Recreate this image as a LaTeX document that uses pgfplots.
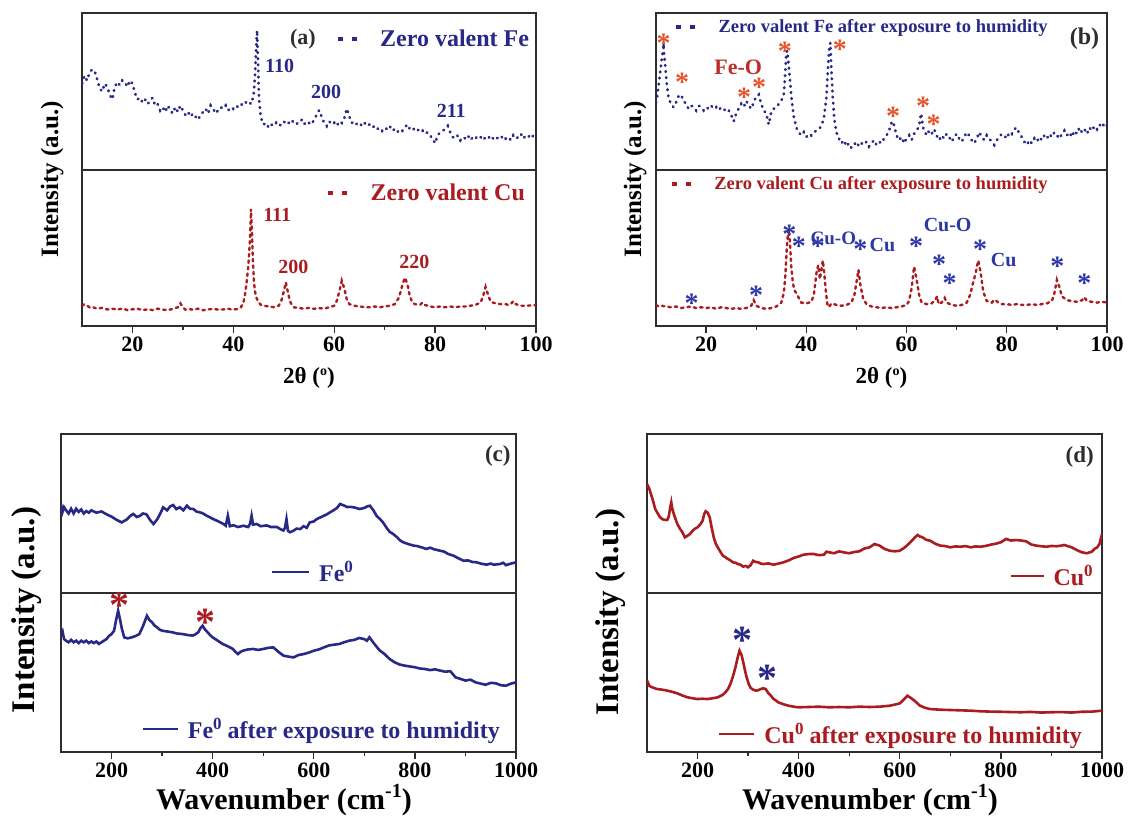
\documentclass[border=0pt]{standalone}
\usepackage{fontspec}
\setmainfont{Liberation Serif}
\usepackage{pgfplots}
\pgfplotsset{compat=1.18}
\definecolor{fenavy}{RGB}{40,40,135}
\definecolor{cured}{RGB}{170,28,32}
\definecolor{starorange}{RGB}{228,84,44}
\definecolor{feo}{RGB}{190,45,40}
\definecolor{cublue}{RGB}{45,55,165}
\definecolor{framec}{RGB}{45,45,45}
\newcommand{\fs}[1]{\fontsize{#1}{#1}\selectfont\bfseries}
\newcommand{\sps}[3]{\raisebox{#2}{\fontsize{#1}{#1}\selectfont\bfseries #3}}
\tikzset{
  st/.style={inner sep=0pt, anchor=base, font=\fs{28}, yshift=-13pt},
  bst/.style={inner sep=0pt, anchor=base, font=\fs{40}, yshift=-19pt},
}
\pgfplotsset{
  base/.style={scale only axis, anchor=south west,
    axis line style={framec, line width=1.4pt},
    ymin=0, ymax=100, ytick=\empty,
    /pgf/number format/assume math mode=true,
    /pgf/number format/set thousands separator={}},
  topsub/.style={base, xtick=\empty},
  botsub/.style={base, xtick pos=lower, tick align=outside,
    major tick length=7pt, minor tick length=4pt,
    every tick/.style={framec, line width=1.3pt},
    xticklabel style={font=\fs{22}}},
  xrd/.style={xmin=10, xmax=100},
  xrdbot/.style={xrd, botsub, xtick={20,40,60,80,100}, minor xtick={30,50,70,90},
    xlabel={2θ (\sps{14}{8pt}{o})},
    xlabel style={at={(axis description cs:0.5,-0.33)}, anchor=center, font=\fs{23}}},
  ram/.style={xmin=100, xmax=1000},
  rambot/.style={ram, botsub, xtick={200,400,600,800,1000}, minor xtick={300,500,700,900},
    xlabel={Wavenumber (cm\sps{20}{12pt}{-1})},
    xlabel style={at={(axis description cs:0.49,-0.305)}, anchor=center, font=\fs{30}}},
  dotleg/.style={legend image code/.code={
      \fill[#1, draw=none, solid] (-2.5pt,-1.8pt) rectangle (2.5pt,1.8pt);
      \fill[#1, draw=none, solid] (11.5pt,-1.8pt) rectangle (16.5pt,1.8pt);
      \path[draw=none, fill=none] (0pt,0pt) -- (40pt,0pt);}},
  lineleg/.style 2 args={legend image code/.code={
      \draw[#1, line width=2.8pt, solid] (0pt,0pt) -- (#2,0pt);
      \path[draw=none, fill=none] (0pt,0pt) -- ([xshift=10pt]#2,0pt);}},
  legs/.style={legend style={draw=none, fill=none, inner sep=0pt, nodes={inner sep=0pt}}},
}
\begin{document}
\begin{tikzpicture}
\useasboundingbox (0pt,0pt) rectangle (1129pt,818pt);

% ---------------- (a) top
\begin{axis}[topsub, xrd, at={(82pt,648pt)}, width=454pt, height=157pt,
  legs, dotleg=fenavy, legend style={at={(axis description cs:0.985,0.834)}, anchor=east, font=\fs{24}, text=fenavy}]
\addplot[fenavy, line width=2.8pt, line cap=round, dash pattern=on 0.6pt off 5.5pt] coordinates {
(10,55)(10.5,60)(11,57)(11.5,62)(12,64)(12.5,63)(13,58)(13.5,52)(14,50)(14.5,55)(15,53)(15.5,48)(16,45)(16.5,53)(17,56)(17.5,54)(18,57)(18.5,56)(19,53)(19.5,57)(20,55)(20.5,49)(21,45)(21.5,46)(22,43)(22.5,45)(23,42)(23.5,44)(24,46)(24.5,41)(25,42)(25.5,38)(26,40)(26.5,37)(27,41)(27.5,38)(28,36)(28.5,40)(29,37)(29.5,41)(30,38)(30.5,35)(31,37)(31.5,34)(32,36)(32.5,34)(33,32)(33.5,35)(34,37)(34.5,39)(35,36)(35.5,41)(36,39)(36.5,36)(37,38)(37.5,40)(38,39)(38.5,41)(39,38)(39.5,40)(40,39)(40.5,41)(41,40)(41.5,42)(42,41)(42.5,43)(43,44)(43.5,42)(44,47)(44.3,60)(44.5,76)(44.7,89)(44.9,68)(45.1,45)(45.4,35)(45.7,31)(46,29)(46.5,30)(47,27)(47.5,29)(48,28)(48.5,30)(49,28)(49.5,29)(50,31)(50.5,29)(51,30)(51.5,32)(52,30)(52.5,29)(53,31)(53.5,32)(54,29)(54.5,31)(55,30)(55.5,29)(56,32)(56.5,35)(57,38)(57.5,34)(58,30)(58.5,28)(59,31)(59.5,29)(60,30)(60.5,28)(61,31)(61.5,30)(62,33)(62.5,39)(63,34)(63.5,30)(64,31)(64.5,29)(65,30)(65.5,28)(66,30)(66.5,28)(67,29)(67.5,27)(68,28)(68.5,26)(69,27)(69.5,25)(70,27)(70.5,26)(71,28)(71.5,25)(72,26)(72.5,24)(73,26)(73.5,25)(74,27)(74.5,29)(75,26)(75.5,25)(76,27)(76.5,26)(77,24)(77.5,25)(78,23)(78.5,24)(79,22)(79.5,20)(80,17)(80.5,22)(81,24)(81.5,25)(82,26)(82.5,28)(83,24)(83.5,21)(84,20)(84.5,22)(85,19)(85.5,21)(86,20)(86.5,22)(87,19)(87.5,21)(88,20)(88.5,22)(89,21)(89.5,19)(90,21)(90.5,20)(91,22)(91.5,20)(92,19)(92.5,21)(93,20)(93.5,22)(94,20)(94.5,21)(95,19)(95.5,22)(96,20)(96.5,21)(97,23)(97.5,20)(98,22)(98.5,21)(99,23)(99.5,21)(100,22)};
\addlegendentry{Zero valent Fe}
\node[font=\fs{22}, text=framec] at (axis cs:53.8,83.4) {(a)};
\node[font=\fs{20}, text=fenavy, anchor=west] at (axis cs:45.6,66.2) {110};
\node[font=\fs{20}, text=fenavy] at (axis cs:58.4,49.7) {200};
\node[font=\fs{20}, text=fenavy] at (axis cs:83.2,37.6) {211};
\end{axis}

% ---------------- (a) bottom
\begin{axis}[xrdbot, at={(82pt,492pt)}, width=454pt, height=156pt,
  ylabel={Intensity (a.u.)}, ylabel style={at={(axis description cs:-0.066,0.94)}, anchor=center, font=\fs{25}},
  legs, dotleg=cured, legend style={at={(axis description cs:0.976,0.853)}, anchor=east, font=\fs{24}, text=cured}]
\addplot[cured, line width=2.4pt, line cap=round, dash pattern=on 2.5pt off 4pt] coordinates {
(10,13)(10.5,14)(11,13)(11.5,12)(12,12.4)(12.5,11.6)(13,11.2)(14,11.6)(15,10.6)(16,11.1)(17,10.5)(18,11.2)(19,10.2)(20,10.7)(21,11.1)(22,10.1)(23,10.7)(24,10.2)(25,11.1)(26,10.5)(27,10.1)(28,11)(29,12)(29.5,14.5)(30,12)(30.5,10.5)(31,11.1)(32,10.4)(33,11.1)(34,10.1)(35,10.6)(36,11)(37,10.5)(38,10.6)(39,11)(40,10.5)(41,11)(41.5,12)(42,15)(42.3,20)(42.6,27)(42.9,36)(43.1,45)(43.3,55)(43.5,75)(43.7,60)(43.9,40)(44.1,28)(44.3,22)(44.6,18)(45,15)(45.5,13.5)(46,13)(47,12.5)(48,12.1)(49,13)(49.5,16)(50,22)(50.4,28)(50.8,22)(51.2,16)(51.7,13)(52,12)(53,11.5)(54,11.1)(55,11.6)(56,11)(57,11.5)(58,11.1)(59,12)(60,13)(60.5,16)(61,22)(61.5,29)(62,24)(62.5,17)(63,14)(64,13)(65,12.5)(66,12.1)(67,12)(68,12.5)(69,12)(70,12.5)(71,13)(72,14)(72.8,18)(73.5,26)(74,31)(74.5,27)(75,19)(75.5,15)(76,14)(77,13.5)(77.5,15)(78,13.5)(79,12.5)(80,12)(81,12.5)(82,12)(83,12.5)(84,12)(85,12.5)(86,12.5)(87,13)(88,13.5)(89,15)(89.5,19)(90,25)(90.5,20)(91,15.5)(92,14.5)(93,14)(94,14)(94.5,13.5)(95,14)(95.5,16)(96,14)(97,13)(98,13)(99,13.2)(100,13.5)};
\addlegendentry{Zero valent Cu}
\node[font=\fs{20}, text=cured] at (axis cs:48.7,71.2) {111};
\node[font=\fs{20}, text=cured] at (axis cs:51.9,37.8) {200};
\node[font=\fs{20}, text=cured] at (axis cs:75.9,41) {220};
\end{axis}

% ---------------- (b) top
\begin{axis}[topsub, xrd, at={(656pt,648pt)}, width=451pt, height=157pt,
  legs, dotleg=fenavy, legend style={at={(axis description cs:0.869,0.91)}, anchor=east, font=\fs{18.5}, text=fenavy}]
\addplot[fenavy, line width=2.8pt, line cap=round, dash pattern=on 0.6pt off 5.5pt] coordinates {
(10,43)(10.3,48)(10.6,56)(10.9,64)(11.2,72)(11.5,78)(11.8,68)(12.1,56)(12.5,46)(13,42)(13.5,40)(14,43)(14.5,47)(15,48)(15.5,44)(16,42)(16.5,39)(17,41)(17.5,40)(18,38)(18.5,41)(19,40)(19.5,38)(20,40)(20.5,39)(21,41)(21.5,39)(22,40)(22.5,38)(23,40)(23.5,39)(24,37)(24.5,38)(25,35)(25.5,31)(26,36)(26.5,39)(27,42)(27.5,40)(28,44)(28.5,41)(29,39)(29.5,43)(30,47)(30.5,48)(31,42)(31.5,38)(32,36)(32.5,29)(33,37)(33.5,39)(34,40)(34.5,42)(35,44)(35.5,48)(35.8,62)(36,74)(36.2,76)(36.5,66)(36.8,55)(37.1,44)(37.5,34)(38,27)(38.5,24)(39,22)(39.5,24)(40,21)(40.5,23)(41,22)(41.5,24)(42,25)(42.5,26)(43,28)(43.5,33)(44,46)(44.2,58)(44.4,70)(44.6,78)(44.8,81)(45,64)(45.3,45)(45.6,32)(46,24)(46.5,20)(47,17)(47.5,19)(48,15)(48.5,17)(49,14)(49.5,16)(50,18)(50.5,15)(51,17)(51.5,16)(52,18)(52.5,15)(53,17)(53.5,19)(54,16)(54.5,18)(55,17)(55.5,20)(56,22)(56.5,25)(57,30)(57.3,31)(57.7,26)(58,22)(58.5,19)(59,21)(59.5,17)(60,20)(60.5,22)(61,19)(61.5,23)(62,25)(62.5,28)(62.9,36)(63.3,27)(63.7,24)(64,22)(64.5,25)(65,23)(65.5,26)(66,22)(66.5,19)(67,22)(67.5,20)(68,23)(68.5,21)(69,18)(69.5,21)(70,23)(70.5,20)(71,18)(71.5,21)(72,24)(72.5,22)(73,19)(73.5,17)(74,20)(74.5,24)(75,21)(75.5,19)(76,22)(76.5,20)(77,18)(77.5,16)(78,19)(78.5,21)(79,23)(79.5,22)(80,20)(80.5,24)(81,23)(81.5,26)(82,27)(82.5,23)(83,21)(83.5,18)(84,16)(84.5,19)(85,17)(85.5,20)(86,18)(86.5,21)(87,19)(87.5,22)(88,20)(88.5,23)(89,21)(89.5,24)(90,22)(90.5,20)(91,23)(91.5,25)(92,22)(92.5,24)(93,21)(93.5,25)(94,23)(94.5,27)(95,24)(95.5,26)(96,23)(96.5,27)(97,25)(97.5,28)(98,26)(98.5,29)(99,27)(99.5,30)(100,28)};
\addlegendentry{Zero valent Fe after exposure to humidity}
\node[font=\fs{24}, text=framec] at (axis cs:95.5,83.4) {(b)};
\node[font=\fs{22}, text=feo] at (axis cs:26.4,65.6) {Fe-O};
\node[st, text=starorange] at (axis cs:11.5,83.4) {*};
\node[st, text=starorange] at (axis cs:15.2,58) {*};
\node[st, text=starorange] at (axis cs:27.6,48.4) {*};
\node[st, text=starorange] at (axis cs:30.6,54.8) {*};
\node[st, text=starorange] at (axis cs:35.7,78.3) {*};
\node[st, text=starorange] at (axis cs:46.7,79) {*};
\node[st, text=starorange] at (axis cs:57.3,36.3) {*};
\node[st, text=starorange] at (axis cs:63.3,42.7) {*};
\node[st, text=starorange] at (axis cs:65.4,31.8) {*};
\end{axis}

% ---------------- (b) bottom
\begin{axis}[xrdbot, at={(656pt,492pt)}, width=451pt, height=156pt,
  ylabel={Intensity (a.u.)}, ylabel style={at={(axis description cs:-0.046,0.94)}, anchor=center, font=\fs{25}},
  legs, dotleg=cured, legend style={at={(axis description cs:0.869,0.91)}, anchor=east, font=\fs{18.5}, text=cured}]
\addplot[cured, line width=2.4pt, line cap=round, dash pattern=on 2.5pt off 4pt] coordinates {
(10,13.5)(10.5,12.5)(11,13)(12,12.5)(13,12)(14,12.5)(15,11.5)(16,12)(17,12.5)(18,11.5)(19,12)(20,11.5)(21,12)(22,11)(23,12)(24,11.5)(25,11)(26,11.5)(27,11)(28,11.5)(29,13)(29.5,16.5)(30,13)(31,11.5)(32,11)(33,11.5)(34,12.5)(35,15)(35.5,21)(35.8,32)(36.1,50)(36.4,62)(36.7,55)(37,38)(37.3,28)(37.6,23)(38,21)(38.5,18)(39,15)(40,14.5)(41,15.5)(41.5,20)(41.8,28)(42.1,36)(42.4,39)(42.7,30)(43,36)(43.3,42)(43.6,33)(43.9,22)(44.2,14)(44.5,12)(45,14.5)(46,13.5)(47,13)(48,13.5)(49,15)(49.6,20)(50.1,30)(50.4,36)(50.8,26)(51.3,18)(52,14)(53,12.5)(54,12)(55,11.5)(56,12)(57,11.5)(58,12)(59,12.5)(60,13.5)(60.5,16)(61,24)(61.5,38)(62,30)(62.5,20)(63,15)(64,14)(65,14.5)(65.8,17)(66.1,19)(66.4,14)(67,15)(67.6,18)(68,15)(69,13.5)(70,13)(71,13.5)(72,15)(72.7,20)(73.3,28)(73.8,34)(74.3,42)(74.8,34)(75.3,22)(76,16)(77,15)(77.6,17)(78.3,15)(79,14)(80,14)(81,13.5)(82,14)(83,13.5)(84,13.5)(85,14)(86,13.5)(87,14)(88,14.5)(89,16)(89.5,21)(90,29.5)(90.5,25)(91,19)(92,16.5)(93,16)(94,15.5)(95,16.5)(95.5,18.5)(96,16)(97,15.5)(98,15)(99,15.5)(100,15)};
\addlegendentry{Zero valent Cu after exposure to humidity}
\node[st, text=cublue] at (axis cs:17.1,16.7) {*};
\node[st, text=cublue] at (axis cs:30,21.8) {*};
\node[st, text=cublue] at (axis cs:36.6,61.5) {*};
\node[st, text=cublue] at (axis cs:38.5,53.2) {*};
\node[st, text=cublue] at (axis cs:42.3,53.2) {*};
\node[st, text=cublue] at (axis cs:50.8,51.9) {*};
\node[st, text=cublue] at (axis cs:61.9,53.2) {*};
\node[st, text=cublue] at (axis cs:66.5,42.3) {*};
\node[st, text=cublue] at (axis cs:68.6,29.5) {*};
\node[st, text=cublue] at (axis cs:74.7,51.9) {*};
\node[st, text=cublue] at (axis cs:90.1,41) {*};
\node[st, text=cublue] at (axis cs:95.5,29.5) {*};
\node[font=\fs{19}, text=cublue] at (axis cs:45.4,56) {Cu-O};
\node[font=\fs{20}, text=cublue] at (axis cs:55.2,52) {Cu};
\node[font=\fs{20}, text=cublue] at (axis cs:68.2,64.7) {Cu-O};
\node[font=\fs{20}, text=cublue] at (axis cs:79.4,42.3) {Cu};
\end{axis}

% ---------------- (c) top
\begin{axis}[topsub, ram, at={(61pt,225pt)}, width=455pt, height=159pt,
  legs, lineleg={fenavy}{37pt}, legend style={at={(axis description cs:0.642,0.132)}, anchor=east, font=\fs{24}, text=fenavy}]
\addplot[fenavy, line width=2.6pt] coordinates {
(100,56)(103,51)(106,54)(110,52)(115,50)(120,53)(125,50)(130,53)(135,51)(140,52.5)(145,50)(150,51.5)(155,50.5)(160,52)(170,50.5)(180,51.3)(190,49.5)(200,48)(210,46)(220,44.4)(230,46.2)(237,48.5)(243,49.7)(250,47.8)(256,48.5)(262,50)(269,49.5)(276,46)(283,43.4)(290,46.2)(296,49.7)(302,53.9)(310,52)(316,54.5)(322,55.3)(328,52.8)(335,53.9)(342,52)(349,54.9)(355,53)(362,52.8)(368,51.2)(375,50.7)(381,50)(388,48.6)(395,47.5)(401,46.5)(408,45.5)(415,44.4)(422,43.3)(426,42.3)(430,48.6)(434,42)(441,42.6)(450,41.5)(461,42.3)(470,41.5)(474,43.5)(477,48.6)(480,43)(487,43.4)(495,42)(507,42.5)(515,41.5)(527,41.5)(535,40)(540,39.3)(543,41)(546,46.5)(549,39)(553,38.2)(560,39.2)(566,40.5)(573,40.2)(580,42)(586,41)(592,44.4)(600,45)(606,46.5)(612,47.4)(620,48.6)(626,49.5)(632,50.7)(640,52.2)(646,53.5)(652,56)(660,55)(666,54)(671,54.2)(680,53.8)(691,52.8)(700,53.5)(706,54.5)(711,54.9)(718,52)(724,48.6)(731,46.5)(737,44.4)(744,41)(750,38.5)(757,37.1)(765,35)(771,33)(777,31.9)(785,31)(790,30.5)(797,29.8)(805,29.5)(815,28.5)(823,27.7)(830,28.5)(838,27.5)(850,26.6)(858,26)(866,24.5)(876,23.5)(885,22)(896,20.3)(905,20.5)(914,19.5)(922,19.3)(930,18.5)(942,17.8)(950,18.5)(956,17.8)(968,18.2)(975,19)(980,17.5)(990,18.5)(1000,19.3)};
\addlegendentry{Fe\sps{17}{9pt}{0}}
\node[font=\fs{23}, text=framec] at (axis cs:964,86.2) {(c)};
\end{axis}

% ---------------- (c) bottom
\begin{axis}[rambot, at={(61pt,66pt)}, width=455pt, height=159pt,
  ylabel={Intensity (a.u.)}, ylabel style={at={(axis description cs:-0.076,0.893)}, anchor=center, font=\fs{33}},
  legs, lineleg={fenavy}{35pt}, legend style={at={(axis description cs:0.965,0.145)}, anchor=east, font=\fs{24}, text=fenavy}]
\addplot[fenavy, line width=2.6pt] coordinates {
(100,74.2)(103,76)(106,71)(110,70)(115,69)(120,70.5)(125,69)(130,70)(135,68.5)(140,70)(145,69)(150,70)(155,68.5)(160,69.5)(165,68.5)(170,69.5)(175,68)(180,69)(185,70)(190,71)(195,73)(200,74.2)(205,76.3)(209,83)(213,88.9)(217,83)(220,78)(225,72.1)(232,71.5)(240,72.1)(248,73)(255,74.2)(262,79)(270,85.7)(275,83)(280,81.6)(285,79.5)(290,78.4)(295,77)(300,76.3)(310,75.8)(320,75.3)(330,74.5)(340,74.2)(350,73.6)(360,73.2)(366,74)(372,75.5)(376,78)(380,79.4)(385,77)(390,75.3)(395,73.5)(400,72.1)(410,70)(420,67.9)(430,66.5)(440,64.8)(445,63)(450,61.6)(455,63)(460,63.7)(470,64.5)(480,64.8)(490,64.2)(500,64.8)(510,65.5)(520,65.8)(530,63)(540,60.6)(550,60)(560,59.5)(570,61)(580,61.6)(590,62.5)(600,63.7)(610,64.5)(620,65.8)(630,67)(640,67.5)(650,67.9)(660,69)(670,70)(680,70.5)(690,71.7)(700,71)(705,70)(710,72.1)(715,70)(720,67.9)(730,64)(740,61.6)(750,58.5)(760,56.4)(770,55)(780,54.3)(790,53.8)(800,53.3)(810,52.5)(820,52.2)(830,51.5)(840,52)(850,51.2)(860,50.5)(870,50.8)(875,49)(880,47)(890,46)(900,44.9)(910,45.5)(920,43.8)(930,43)(940,42.3)(950,43.5)(960,43.2)(970,42)(980,41.7)(990,43)(1000,43.8)};
\addlegendentry{Fe\sps{17}{9pt}{0} after exposure to humidity}
\node[bst, text=cured] at (axis cs:215,96.2) {*};
\node[bst, text=cured] at (axis cs:385,85.5) {*};
\end{axis}

% ---------------- (d) top
\begin{axis}[topsub, ram, at={(647pt,225pt)}, width=455pt, height=159pt,
  legs, lineleg={cured}{33pt}, legend style={at={(axis description cs:0.98,0.107)}, anchor=east, font=\fs{24}, text=cured}]
\addplot[cured, line width=2.6pt] coordinates {
(100,68.6)(104,66)(108,62)(112,58)(116,53)(120,50.7)(125,48)(130,46.5)(135,46)(140,45.9)(143,48)(146,54)(148,57)(150,53)(153,49.7)(157,46)(160,43.4)(165,40.5)(170,38.2)(175,35)(180,36)(185,37.1)(190,39)(195,40.5)(200,41.3)(205,43)(210,45.5)(213,49.5)(216,51.4)(220,50.5)(224,47.6)(228,41)(232,35)(236,31)(240,28.7)(245,26)(250,23.5)(255,22.5)(260,21.4)(265,20.5)(270,19.3)(275,19)(280,18.2)(285,17.8)(290,16.6)(295,17)(300,16.2)(305,17.5)(310,20.3)(315,19.5)(320,19.3)(325,18.5)(330,18.2)(340,18.6)(350,17.8)(360,18.5)(370,19.3)(380,20.5)(390,22)(400,23)(410,24.1)(420,24.5)(430,24.5)(440,23.8)(450,24.1)(455,26)(460,25.6)(470,25)(480,26.2)(490,25.5)(500,25)(510,25.8)(520,26.2)(530,28)(540,28.7)(550,30.8)(560,29.8)(570,27.7)(580,26.6)(590,26.2)(600,26.6)(610,28.7)(618,31)(625,33.3)(630,35)(635,36.5)(640,35.5)(645,35)(652,33.5)(660,32.9)(670,31)(680,29.8)(690,29.5)(700,28.7)(710,29.3)(720,29.1)(730,29.5)(740,28.7)(750,29.3)(760,29.1)(770,29.6)(780,30.4)(790,31)(800,31.9)(810,34)(820,33)(830,33.3)(840,33)(850,32.5)(860,30.5)(870,29.8)(880,29.4)(890,29.1)(900,29.6)(910,29.4)(920,29.8)(925,30.2)(935,29.2)(940,28.7)(950,27)(960,25.6)(970,25)(980,26)(985,27.7)(990,28.5)(995,30.8)(1000,37)};
\addlegendentry{Cu\sps{17}{9pt}{0}}
\node[font=\fs{23}, text=framec] at (axis cs:956,85.5) {(d)};
\end{axis}

% ---------------- (d) bottom
\begin{axis}[rambot, at={(647pt,66pt)}, width=455pt, height=159pt,
  ylabel={Intensity (a.u.)}, ylabel style={at={(axis description cs:-0.081,0.88)}, anchor=center, font=\fs{33}},
  legs, lineleg={cured}{35pt}, legend style={at={(axis description cs:0.956,0.113)}, anchor=east, font=\fs{24}, text=cured}]
\addplot[cured, line width=2.6pt] coordinates {
(100,44.9)(105,41.5)(110,40.7)(120,39.6)(130,39.2)(140,38.6)(150,37.8)(160,36.9)(170,35.5)(180,34.4)(190,33.8)(200,33.3)(210,33.5)(220,33.3)(230,33.8)(240,34.4)(250,36)(255,37.5)(260,39.5)(265,42.8)(270,47.5)(275,53.3)(279,59)(283,63.7)(287,61)(290,57)(294,51)(297,47)(301,43)(305,40.3)(310,39.2)(315,38.6)(320,38.8)(325,39.6)(330,40.1)(335,39.5)(340,37)(345,35.4)(350,33.5)(360,31.2)(370,30)(380,29.1)(390,28.5)(400,28.1)(420,28.3)(440,28.5)(460,28.1)(480,28.3)(500,28.1)(520,28.5)(540,28.3)(560,28.5)(580,29.1)(590,29.8)(600,30.6)(608,33)(615,35.4)(622,34)(630,32)(640,29.1)(650,27.8)(660,27)(680,26.6)(700,26.4)(720,26.2)(740,26)(760,25.6)(780,25.4)(800,25.3)(820,25.1)(840,25)(860,25.2)(880,24.8)(900,25)(920,25.1)(940,24.8)(960,25.3)(980,25.4)(1000,26)};
\addlegendentry{Cu\sps{17}{9pt}{0} after exposure to humidity}
\node[bst, text=fenavy] at (axis cs:289,74.2) {*};
\node[bst, text=fenavy] at (axis cs:339,49.7) {*};
\end{axis}
\end{tikzpicture}
\end{document}
